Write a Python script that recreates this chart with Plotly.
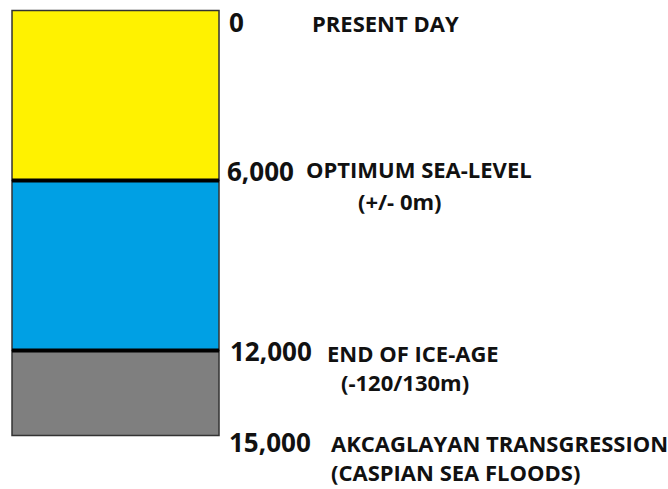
import plotly.graph_objects as go

# Data
periods = ["Present to optimum", "Optimum to end of ice-age", "End of ice-age to Akcaglayan"]
starts = [0, 6000, 12000]
durations = [6000, 6000, 3000]
colors = ["#FFF200", "#00A0E4", "#7F7F7F"]
tick_values = [0, 6000, 12000, 15000]
tick_labels = ["0", "6,000", "12,000", "15,000"]
event_lines = [["PRESENT DAY"], ["OPTIMUM SEA-LEVEL", "(+/- 0m)"],
               ["END OF ICE-AGE", "(-120/130m)"],
               ["AKCAGLAYAN TRANSGRESSION", "(CASPIAN SEA FLOODS)"]]

fig = go.Figure()
for name, s, d, c in zip(periods, starts, durations, colors):
    fig.add_trace(go.Bar(x=[0], y=[d], base=[s], name=name, width=1,
                         marker=dict(color=c, line=dict(color="#333333", width=1.5)),
                         showlegend=False, hoverinfo="skip"))

# boundary lines between periods
for v in tick_values[1:3]:
    fig.add_shape(type="line", xref="x", yref="y", x0=-0.5, x1=0.5, y0=v, y1=v,
                  line=dict(color="black", width=4))

num_font = dict(family="Open Sans, sans-serif", size=26, color="#111111")
txt_font = dict(family="Open Sans, sans-serif", size=22, color="#111111")

num_shift = [-11, 10, -1, -7]
num_x = [0.540, 0.528, 0.545, 0.540]
desc_x = [[0.940], [0.911, 1.160], [1.012, 1.082], [1.031, 1.031]]
desc_shift = [[-12], [12, -20], [-3, -32], [-8, -37]]

for i, (v, lab) in enumerate(zip(tick_values, tick_labels)):
    fig.add_annotation(x=num_x[i], y=v, text="<b>%s</b>" % lab, showarrow=False,
                       xanchor="left", yanchor="middle", yshift=num_shift[i], font=num_font)
    for j, line in enumerate(event_lines[i]):
        fig.add_annotation(x=desc_x[i][j], y=v, text="<b>%s</b>" % line, showarrow=False,
                           xanchor="left", yanchor="middle", yshift=desc_shift[i][j], font=txt_font)

fig.update_layout(
    width=668, height=489, margin=dict(l=0, r=0, t=0, b=0),
    plot_bgcolor="white", paper_bgcolor="white", barmode="overlay",
    xaxis=dict(range=[-0.558, 2.669], visible=False, fixedrange=True),
    yaxis=dict(range=[16893, -374], visible=False, fixedrange=True),
)
fig.write_html("out.html", config={"displayModeBar": False},
               post_script="document.body.style.margin='0px';")
